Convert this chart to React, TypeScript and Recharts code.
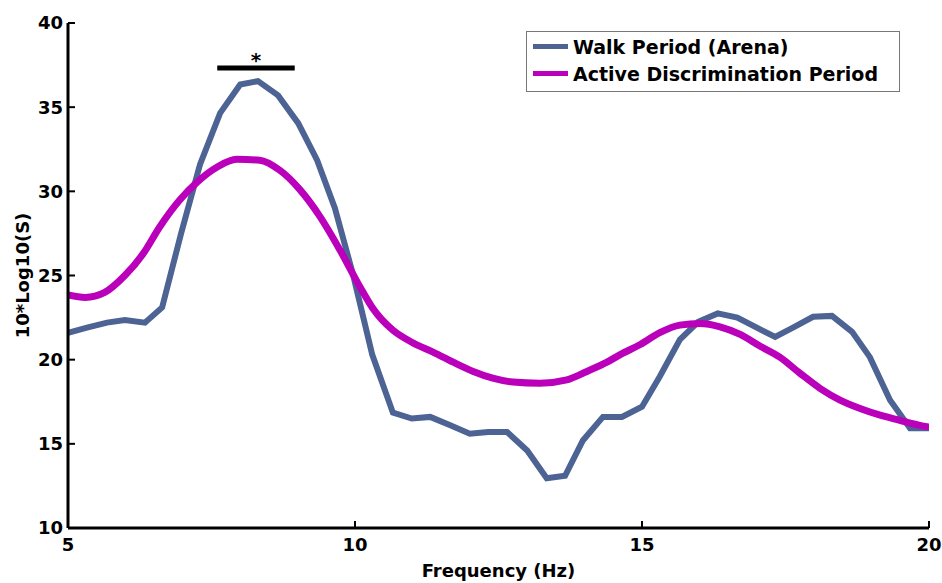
import React from "react";
import { LineChart, Line, XAxis, YAxis, Legend, ReferenceLine } from "recharts";

// Walk period (arena) spectrum
const walkFreq = [5.0, 5.33, 5.68, 5.99, 6.34, 6.64, 6.97, 7.3, 7.65, 8.0, 8.31, 8.66, 9.01, 9.34, 9.65, 9.97, 10.3, 10.66, 10.99, 11.31, 11.66, 12.0, 12.32, 12.65, 13.0, 13.34, 13.66, 13.97, 14.32, 14.65, 15.0, 15.31, 15.66, 15.98, 16.32, 16.66, 17.0, 17.32, 17.63, 17.98, 18.31, 18.66, 18.97, 19.32, 19.67, 20.0]
const walkPower = [21.6, 21.9, 22.2, 22.35, 22.2, 23.1, 27.5, 31.6, 34.65, 36.35, 36.55, 35.7, 34.05, 31.85, 29.0, 25.0, 20.3, 16.85, 16.5, 16.6, 16.1, 15.6, 15.7, 15.7, 14.6, 12.96, 13.1, 15.2, 16.6, 16.6, 17.2, 19.0, 21.2, 22.25, 22.75, 22.5, 21.9, 21.35, 21.9, 22.55, 22.6, 21.65, 20.15, 17.6, 15.93, 15.93]

// Active discrimination period spectrum
const activeFreq = [5.0, 5.3, 5.64, 5.99, 6.31, 6.6, 6.95, 7.25, 7.6, 7.94, 8.34, 8.69, 9.04, 9.39, 9.74, 10.09, 10.3, 10.66, 11.01, 11.36, 11.71, 12.06, 12.4, 12.75, 13.22, 13.69, 14.04, 14.39, 14.62, 14.97, 15.31, 15.66, 16.01, 16.36, 16.71, 17.06, 17.4, 17.75, 18.1, 18.45, 18.8, 19.15, 19.49, 19.84, 20.0]
const activePower = [23.85, 23.7, 24.0, 25.0, 26.3, 27.9, 29.5, 30.55, 31.45, 31.9, 31.85, 31.25, 30.1, 28.5, 26.5, 24.3, 23.1, 21.75, 21.0, 20.45, 19.85, 19.3, 18.9, 18.67, 18.6, 18.8, 19.3, 19.85, 20.3, 20.9, 21.6, 22.05, 22.15, 21.95, 21.5, 20.8, 20.15, 19.2, 18.3, 17.6, 17.1, 16.7, 16.4, 16.1, 16.0]

const seriesNames = ["Walk Period (Arena)", "Active Discrimination Period"]
const xTicks = [5, 10, 15, 20]
const yTicks = [10, 15, 20, 25, 30, 35, 40]
const sigStart = 7.6
const sigEnd = 8.95
const sigLevel = 37.33

const walkData = walkFreq.map((f, i) => ({ f, v: walkPower[i] }))
const activeData = activeFreq.map((f, i) => ({ f, v: activePower[i] }))

const font = "'DejaVu Sans', sans-serif"
const tickStyle = { fill: "#000", fontSize: 18, fontWeight: "bold", fontFamily: font }

function ChartLegend(props: any) {
  const items = [...(props.payload || [])].sort(
    (a: any, b: any) => seriesNames.indexOf(a.value) - seriesNames.indexOf(b.value))
  return (
    <div style={{ border: "1px solid #777", background: "#fff", padding: "1px 6px", width: 374, height: 61, boxSizing: "border-box" }}>
      {items.map((item: any) => (
        <div key={item.value} style={{ display: "flex", alignItems: "center", height: 27 }}>
          <span style={{ display: "inline-block", width: 35, height: 5, background: item.color, marginRight: 5 }} />
          <span style={{ font: `bold 19px ${font}`, color: "#000" }}>{item.value}</span>
        </div>
      ))}
    </div>
  )
}

function YLabel(props: any) {
  const { viewBox } = props
  const cx = viewBox.x + 2
  const cy = viewBox.y + viewBox.height / 2
  return (
    <text x={cx} y={cy} transform={`rotate(-90 ${cx} ${cy})`} textAnchor="middle" dominantBaseline="central"
      style={{ fontSize: 18, fontWeight: "bold", fontFamily: font, fill: "#000" }}>
      10*Log10(S)
    </text>
  )
}

export default function App() {
  return (
    <div style={{ position: "absolute", left: 0, top: 0, background: "#fff" }}>
      <LineChart width={942} height={583} margin={{ top: 23, right: 13, left: 20, bottom: 0 }}>
        <XAxis type="number" dataKey="f" domain={[5, 20]} ticks={xTicks} allowDataOverflow
          height={55} axisLine={{ stroke: "#000", strokeWidth: 3 }} tickLine={{ stroke: "#000", strokeWidth: 2 }}
          tickSize={-7} tickMargin={17} tick={tickStyle}
          label={{ value: "Frequency (Hz)", position: "insideBottom", offset: 6, style: tickStyle }} />
        <YAxis type="number" domain={[10, 40]} ticks={yTicks} allowDataOverflow width={48}
          axisLine={{ stroke: "#000", strokeWidth: 3 }} tickLine={{ stroke: "#000", strokeWidth: 2 }}
          tickSize={-7} tickMargin={12} tick={tickStyle}
          label={{ content: YLabel }} />
        <Legend layout="vertical" align="center" verticalAlign="middle" content={ChartLegend}
          wrapperStyle={{ left: 526, top: 31, width: 374, height: 61 }} />
        <ReferenceLine segment={[{ x: sigStart, y: sigLevel }, { x: sigEnd, y: sigLevel }]} stroke="#000" strokeWidth={5}
          label={{ value: "*", position: "top", offset: 1, style: { fontSize: 20, fontWeight: "bold", fontFamily: font, fill: "#000" } }} />
        <Line data={walkData} dataKey="v" name={seriesNames[0]} type="linear" stroke="#4D6393" strokeWidth={6}
          dot={false} isAnimationActive={false} />
        <Line data={activeData} dataKey="v" name={seriesNames[1]} type="monotone" stroke="#BB00BB" strokeWidth={7}
          dot={false} isAnimationActive={false} />
      </LineChart>
    </div>
  )
}
